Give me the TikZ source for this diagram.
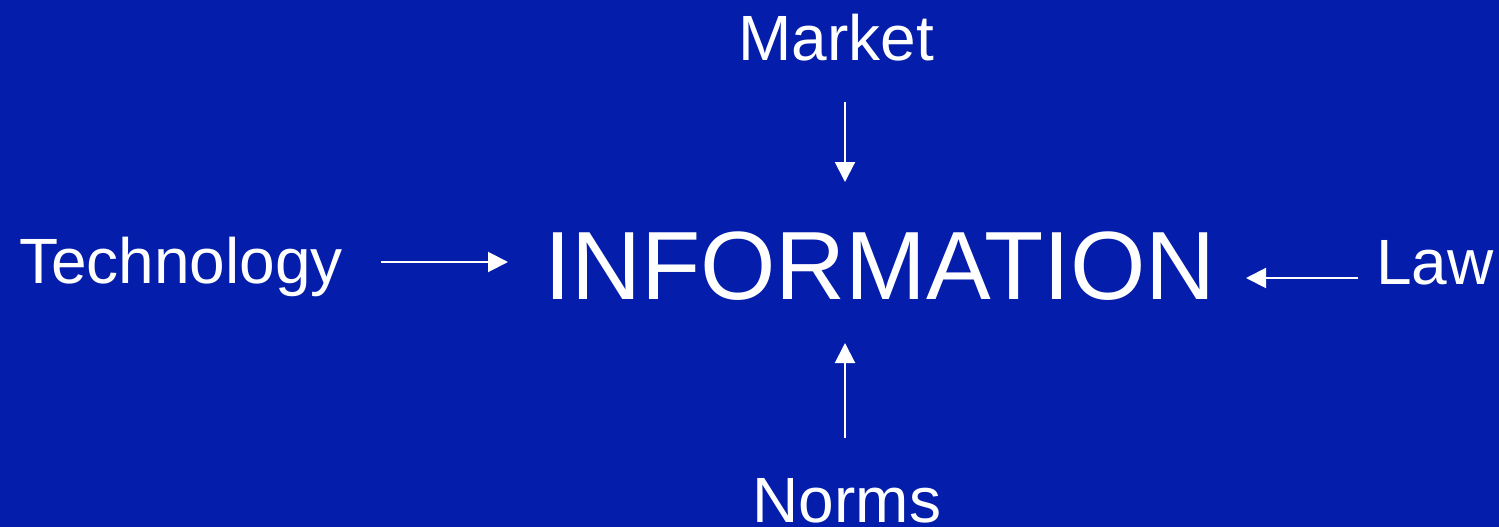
\documentclass[tikz,border=0pt]{standalone}
\usepackage{fontspec}
\setmainfont{Liberation Sans}
\usetikzlibrary{arrows.meta}
\definecolor{bg}{RGB}{4,29,170}
\begin{document}
\begin{tikzpicture}[x=1pt,y=1pt,
  lbl/.style={text=white,inner sep=0pt,anchor=base,font=\fontsize{64}{70}\selectfont},
  big/.style={text=white,inner sep=0pt,anchor=base,font=\fontsize{97}{110}\selectfont},
  arr/.style={draw=white,line width=2pt,-{Triangle[length=20pt,width=20pt]}}]
\fill[bg] (0,0) rectangle (1499,-527);
\useasboundingbox (0,0) rectangle (1499,-527);
\node[big] (info) at (880,-299) {INFORMATION};
\node[lbl] (market) at (836,-60) {Market};
\node[lbl] (tech) at (181,-283) {Technology};
\node[lbl] (law) at (1435,-284) {Law};
\node[lbl] (norms) at (847,-522) {Norms};
\coordinate (m1) at (845,-102);
\coordinate (m2) at (845,-182);
\coordinate (t1) at (381,-262);
\coordinate (t2) at (508,-262);
\coordinate (l1) at (1358,-278);
\coordinate (l2) at (1246,-278);
\coordinate (n1) at (845,-438);
\coordinate (n2) at (845,-343);
\draw[arr] (m1) -- (m2);
\draw[arr] (t1) -- (t2);
\draw[arr] (l1) -- (l2);
\draw[arr] (n1) -- (n2);
\end{tikzpicture}
\end{document}
